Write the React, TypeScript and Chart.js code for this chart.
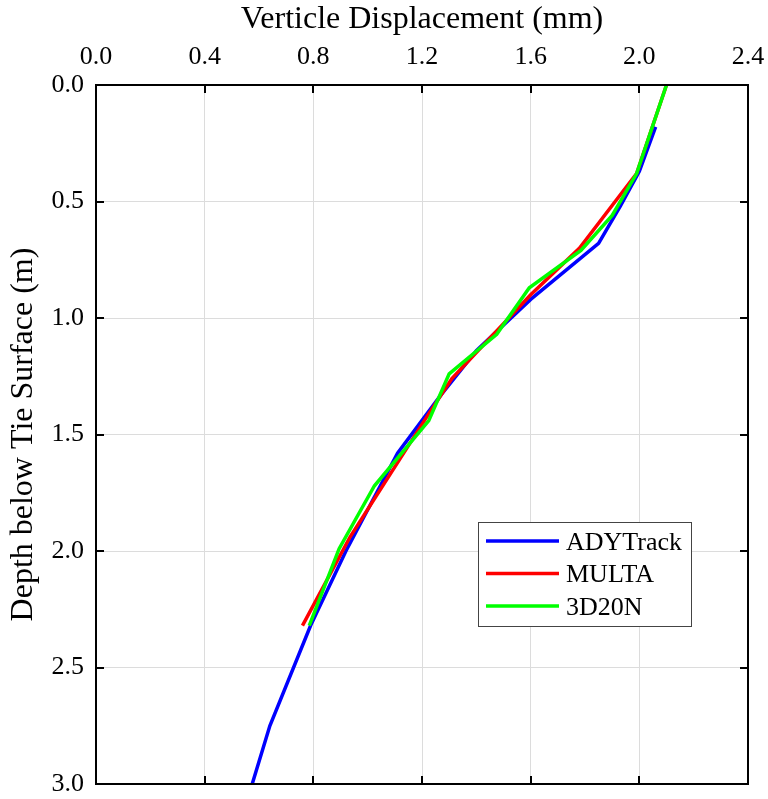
import React, { useEffect, useRef } from "react";
import { Chart, registerables } from "chart.js";

Chart.register(...registerables);

// ---- Data ----
const xTickValues = [0, 0.4, 0.8, 1.2, 1.6, 2.0, 2.4];
const yTickValues = [0, 0.5, 1.0, 1.5, 2.0, 2.5, 3.0];
const seriesNames = ["ADYTrack", "MULTA", "3D20N"];
const seriesColors = ["#0000ff", "#ff0000", "#00ff00"];

const adyDisp = [2.06, 2.0, 1.93, 1.85, 1.6, 1.4, 1.27, 1.11, 0.92, 0.79, 0.64, 0.575];
const adyDepth = [0.18, 0.37, 0.52, 0.68, 0.92, 1.14, 1.33, 1.58, 2.0, 2.32, 2.75, 3.0];

const multaDisp = [2.1, 1.99, 1.78, 1.6, 1.31, 1.22, 0.935, 0.76];
const multaDepth = [0.0, 0.38, 0.7, 0.9, 1.26, 1.42, 1.94, 2.32];

const d3Disp = [2.1, 1.99, 1.9, 1.785, 1.595, 1.475, 1.3, 1.225, 1.025, 0.895, 0.785];
const d3Depth = [0.0, 0.38, 0.56, 0.71, 0.87, 1.07, 1.24, 1.44, 1.72, 1.99, 2.32];

const xTitle = "Verticle Displacement (mm)";
const yTitle = "Depth below Tie Surface (m)";

const FONT = "'Liberation Serif', 'Times New Roman', serif";

const toPoints = (xs: number[], ys: number[]) => xs.map((x, i) => ({ x, y: ys[i] }));

const framePlugin = {
  id: "frameAndLegend",
  afterDraw(chart: any) {
    const { ctx, chartArea: a, scales } = chart;
    ctx.save();
    // inward ticks
    ctx.strokeStyle = "#000";
    ctx.lineWidth = 2;
    const L = 8;
    ctx.beginPath();
    xTickValues.forEach((v) => {
      const px = Math.round(scales.x.getPixelForValue(v));
      if (px <= a.left + 1 || px >= a.right - 1) return;
      ctx.moveTo(px, a.top);
      ctx.lineTo(px, a.top + L);
      ctx.moveTo(px, a.bottom);
      ctx.lineTo(px, a.bottom - L);
    });
    yTickValues.forEach((v) => {
      const py = Math.round(scales.y.getPixelForValue(v));
      if (py <= a.top + 1 || py >= a.bottom - 1) return;
      ctx.moveTo(a.left, py);
      ctx.lineTo(a.left + L, py);
      ctx.moveTo(a.right, py);
      ctx.lineTo(a.right - L, py);
    });
    ctx.stroke();
    // frame
    ctx.strokeRect(a.left, a.top, a.right - a.left, a.bottom - a.top);

    // legend
    const bw = 213;
    const bh = 104;
    const bx = a.right - 57 - bw;
    const by = a.bottom - 262;
    ctx.fillStyle = "#fff";
    ctx.fillRect(bx, by, bw, bh);
    ctx.strokeStyle = "#444";
    ctx.lineWidth = 1;
    ctx.strokeRect(bx + 0.5, by + 0.5, bw, bh);
    ctx.font = `26px ${FONT}`;
    ctx.textBaseline = "middle";
    ctx.textAlign = "left";
    seriesNames.forEach((name, i) => {
      const ry = by + 19 + i * 32.5;
      ctx.strokeStyle = seriesColors[i];
      ctx.lineWidth = 3.5;
      ctx.beginPath();
      ctx.moveTo(bx + 8, ry);
      ctx.lineTo(bx + 81, ry);
      ctx.stroke();
      ctx.fillStyle = "#000";
      ctx.fillText(name, bx + 88, ry + 2);
    });
    ctx.restore();
  },
};

export default function App() {
  const canvasRef = useRef<HTMLCanvasElement | null>(null);

  useEffect(() => {
    if (!canvasRef.current) return;
    const datasets = [
      { label: seriesNames[0], data: toPoints(adyDisp, adyDepth), order: 3 },
      { label: seriesNames[1], data: toPoints(multaDisp, multaDepth), order: 2 },
      { label: seriesNames[2], data: toPoints(d3Disp, d3Depth), order: 1 },
    ].map((d, i) => ({
      ...d,
      borderColor: seriesColors[i],
      backgroundColor: seriesColors[i],
      borderWidth: 3.5,
      pointRadius: 0,
      showLine: true,
      tension: 0,
      fill: false,
    }));

    const chart = new Chart(canvasRef.current, {
      type: "scatter",
      data: { datasets },
      options: {
        responsive: true,
        maintainAspectRatio: false,
        animation: false,
        layout: { padding: { left: 0, top: 0, right: 20, bottom: 15 } },
        plugins: { legend: { display: false }, tooltip: { enabled: false } },
        scales: {
          x: {
            type: "linear",
            position: "top",
            min: 0,
            max: 2.4,
            afterBuildTicks: (s: any) => {
              s.ticks = xTickValues.map((v) => ({ value: v }));
            },
            afterFit: (s: any) => {
              s.height = 85;
              s.paddingLeft = 0;
              s.paddingRight = 0;
            },
            ticks: {
              callback: (v: any) => Number(v).toFixed(1),
              font: { family: FONT, size: 26 },
              color: "#000",
              padding: 12,
              maxRotation: 0,
            },
            grid: { color: "#dcdcdc", lineWidth: 1, drawTicks: false },
            border: { display: false },
            title: {
              display: true,
              text: xTitle,
              font: { family: FONT, size: 32 },
              color: "#000",
              padding: { top: 0, bottom: 0 },
            },
          },
          y: {
            type: "linear",
            position: "left",
            reverse: true,
            min: 0,
            max: 3,
            afterBuildTicks: (s: any) => {
              s.ticks = yTickValues.map((v) => ({ value: v }));
            },
            afterFit: (s: any) => {
              s.width = 96;
              s.paddingTop = 0;
              s.paddingBottom = 0;
            },
            ticks: {
              callback: (v: any) => Number(v).toFixed(1),
              font: { family: FONT, size: 26 },
              color: "#000",
              padding: 12,
            },
            grid: { color: "#dcdcdc", lineWidth: 1, drawTicks: false },
            border: { display: false },
            title: {
              display: true,
              text: yTitle,
              font: { family: FONT, size: 32 },
              color: "#000",
              padding: { top: 4, bottom: 0 },
            },
          },
        },
      },
      plugins: [framePlugin],
    } as any);
    return () => chart.destroy();
  }, []);

  return (
    <div style={{ position: "absolute", left: 0, top: 0, width: 768, height: 799 }}>
      <canvas ref={canvasRef} />
    </div>
  );
}
